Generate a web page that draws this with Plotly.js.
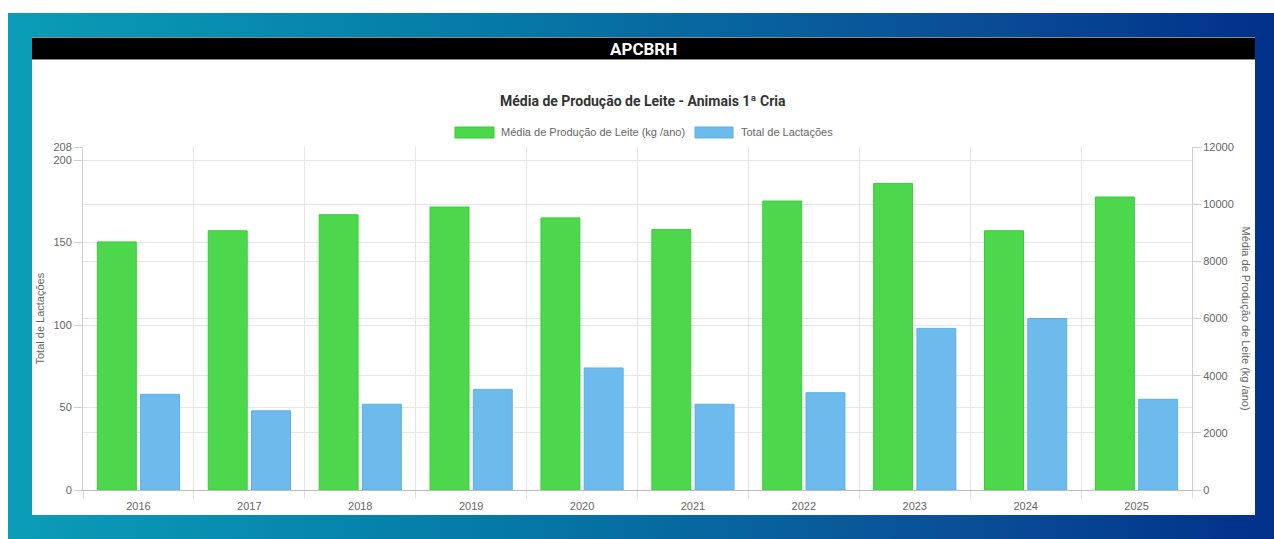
<!DOCTYPE html>
<html>
<head>
<meta charset="utf-8">
<script src="https://cdn.plot.ly/plotly-3.0.1.min.js"></script>
<style>
  html, body { margin:0; padding:0; background:#ffffff; width:1274px; height:539px; overflow:hidden; }
  #bg { position:absolute; left:8px; top:13px; width:1266px; height:526px;
        background: linear-gradient(90deg, #0a9db7 0%, #0578a6 40%, #0a4f97 75%, #00318a 100%); }
  #panel { position:absolute; left:32px; top:37px; width:1223px; height:478px; background:#ffffff; }
  #bar { position:absolute; left:32px; top:37px; width:1223px; height:23px; background:#000;
         border-top:1px solid #8a8a8a; border-bottom:1px solid #8a8a8a; box-sizing:border-box; }
  #chart { position:absolute; left:0; top:0; width:1274px; height:539px; }
</style>
</head>
<body>
<div id="bg"></div>
<div id="panel"></div>
<div id="bar"></div>
<div id="chart"></div>
<script>
const years = ["2016","2017","2018","2019","2020","2021","2022","2023","2024","2025"];
const mediaProducao = [8680, 9070, 9630, 9900, 9520, 9110, 10110, 10720, 9070, 10250];
const totalLactacoes = [58, 48, 52, 61, 74, 52, 59, 98, 104, 55];
const leftTicks = [0, 50, 100, 150, 200, 208];
const rightTicks = [0, 2000, 4000, 6000, 8000, 10000, 12000];

const L = 83, R = 1192, T = 147, B = 490;
const W = 1274, H = 539;
const px = x => (x - L) / (R - L);
const py = y => (B - y) / (B - T);

const green = '#4cd74c', greenLine = '#33d033';
const blue = '#6dbbec', blueLine = '#5aaee8';
const tickFont = {family: 'Liberation Sans, Arial, sans-serif', size: 11, color: '#666666'};

const traces = [
  {type:'bar', x: years, y: mediaProducao, name:'Média de Produção de Leite (kg /ano)',
   yaxis:'y2', offsetgroup:'a', marker:{color: green, line:{color: greenLine, width:1}},
   hoverinfo:'x+y'},
  {type:'bar', x: years, y: totalLactacoes, name:'Total de Lactações',
   yaxis:'y', offsetgroup:'b', marker:{color: blue, line:{color: blueLine, width:1}},
   hoverinfo:'x+y'}
];

const layout = {
  width: W, height: H,
  margin: {l: L, r: W - R, t: T, b: H - B, pad: 0},
  paper_bgcolor: 'rgba(0,0,0,0)', plot_bgcolor: 'rgba(0,0,0,0)',
  showlegend: false,
  barmode: 'group', bargap: 0.22, bargroupgap: 0.1,
  xaxis: {type:'category', tickson:'boundaries', showgrid:true, gridcolor:'#e6e6e6',
          ticks:'outside', ticklen:8, tickcolor:'#e0e0e0', tickfont: tickFont,
          ticklabelstandoff: 6,
          showline:true, linecolor:'#bdbdbd', linewidth:1, mirror:false, fixedrange:true},
  yaxis: {range:[0,208], tickvals: leftTicks, ticktext: leftTicks.map(String),
          showgrid:true, gridcolor:'#e6e6e6', zeroline:false,
          ticks:'outside', ticklen:8, tickcolor:'#cfcfcf', tickfont: tickFont,
          showline:true, linecolor:'#cfcfcf', linewidth:1},
  yaxis2: {range:[0,12000], tickvals: rightTicks, ticktext: rightTicks.map(String),
           overlaying:'y', side:'right',
           showgrid:true, gridcolor:'#e6e6e6', zeroline:false,
           ticks:'outside', ticklen:8, tickcolor:'#cfcfcf', tickfont: tickFont,
           showline:true, linecolor:'#cfcfcf', linewidth:1},
  shapes: [
    {type:'rect', xref:'paper', yref:'paper', x0: px(455), x1: px(494), y0: py(138), y1: py(127),
     fillcolor: green, line:{color: greenLine, width:1}},
    {type:'rect', xref:'paper', yref:'paper', x0: px(695), x1: px(733), y0: py(138), y1: py(127),
     fillcolor: blue, line:{color: blueLine, width:1}}
  ],
  annotations: [
    {text:'<b>APCBRH</b>', xref:'paper', yref:'paper', x: px(643), y: py(48.5), showarrow:false,
     xanchor:'center', yanchor:'middle', font:{family:'Roboto, sans-serif', size:17, color:'#ffffff'}},
    {text:'<b>Média de Produção de Leite - Animais 1ª Cria</b>', xref:'paper', yref:'paper',
     x: px(643), y: py(101), showarrow:false, xanchor:'center', yanchor:'middle',
     font:{family:'Roboto, sans-serif', size:14, color:'#333333'}},
    {text:'Média de Produção de Leite (kg /ano)', xref:'paper', yref:'paper', x: px(499), y: py(132.5),
     showarrow:false, xanchor:'left', yanchor:'middle', font: tickFont},
    {text:'Total de Lactações', xref:'paper', yref:'paper', x: px(739), y: py(132.5),
     showarrow:false, xanchor:'left', yanchor:'middle', font: tickFont},
    {text:'Total de Lactações', xref:'paper', yref:'paper', x: px(39), y: py(318.5),
     showarrow:false, textangle:-90, xanchor:'center', yanchor:'middle', font: tickFont},
    {text:'Média de Produção de Leite (kg /ano)', xref:'paper', yref:'paper', x: px(1246), y: py(318.5),
     showarrow:false, textangle:90, xanchor:'center', yanchor:'middle', font: tickFont}
  ]
};

Plotly.newPlot('chart', traces, layout, {displayModeBar:false, staticPlot:true});
</script>
</body>
</html>
